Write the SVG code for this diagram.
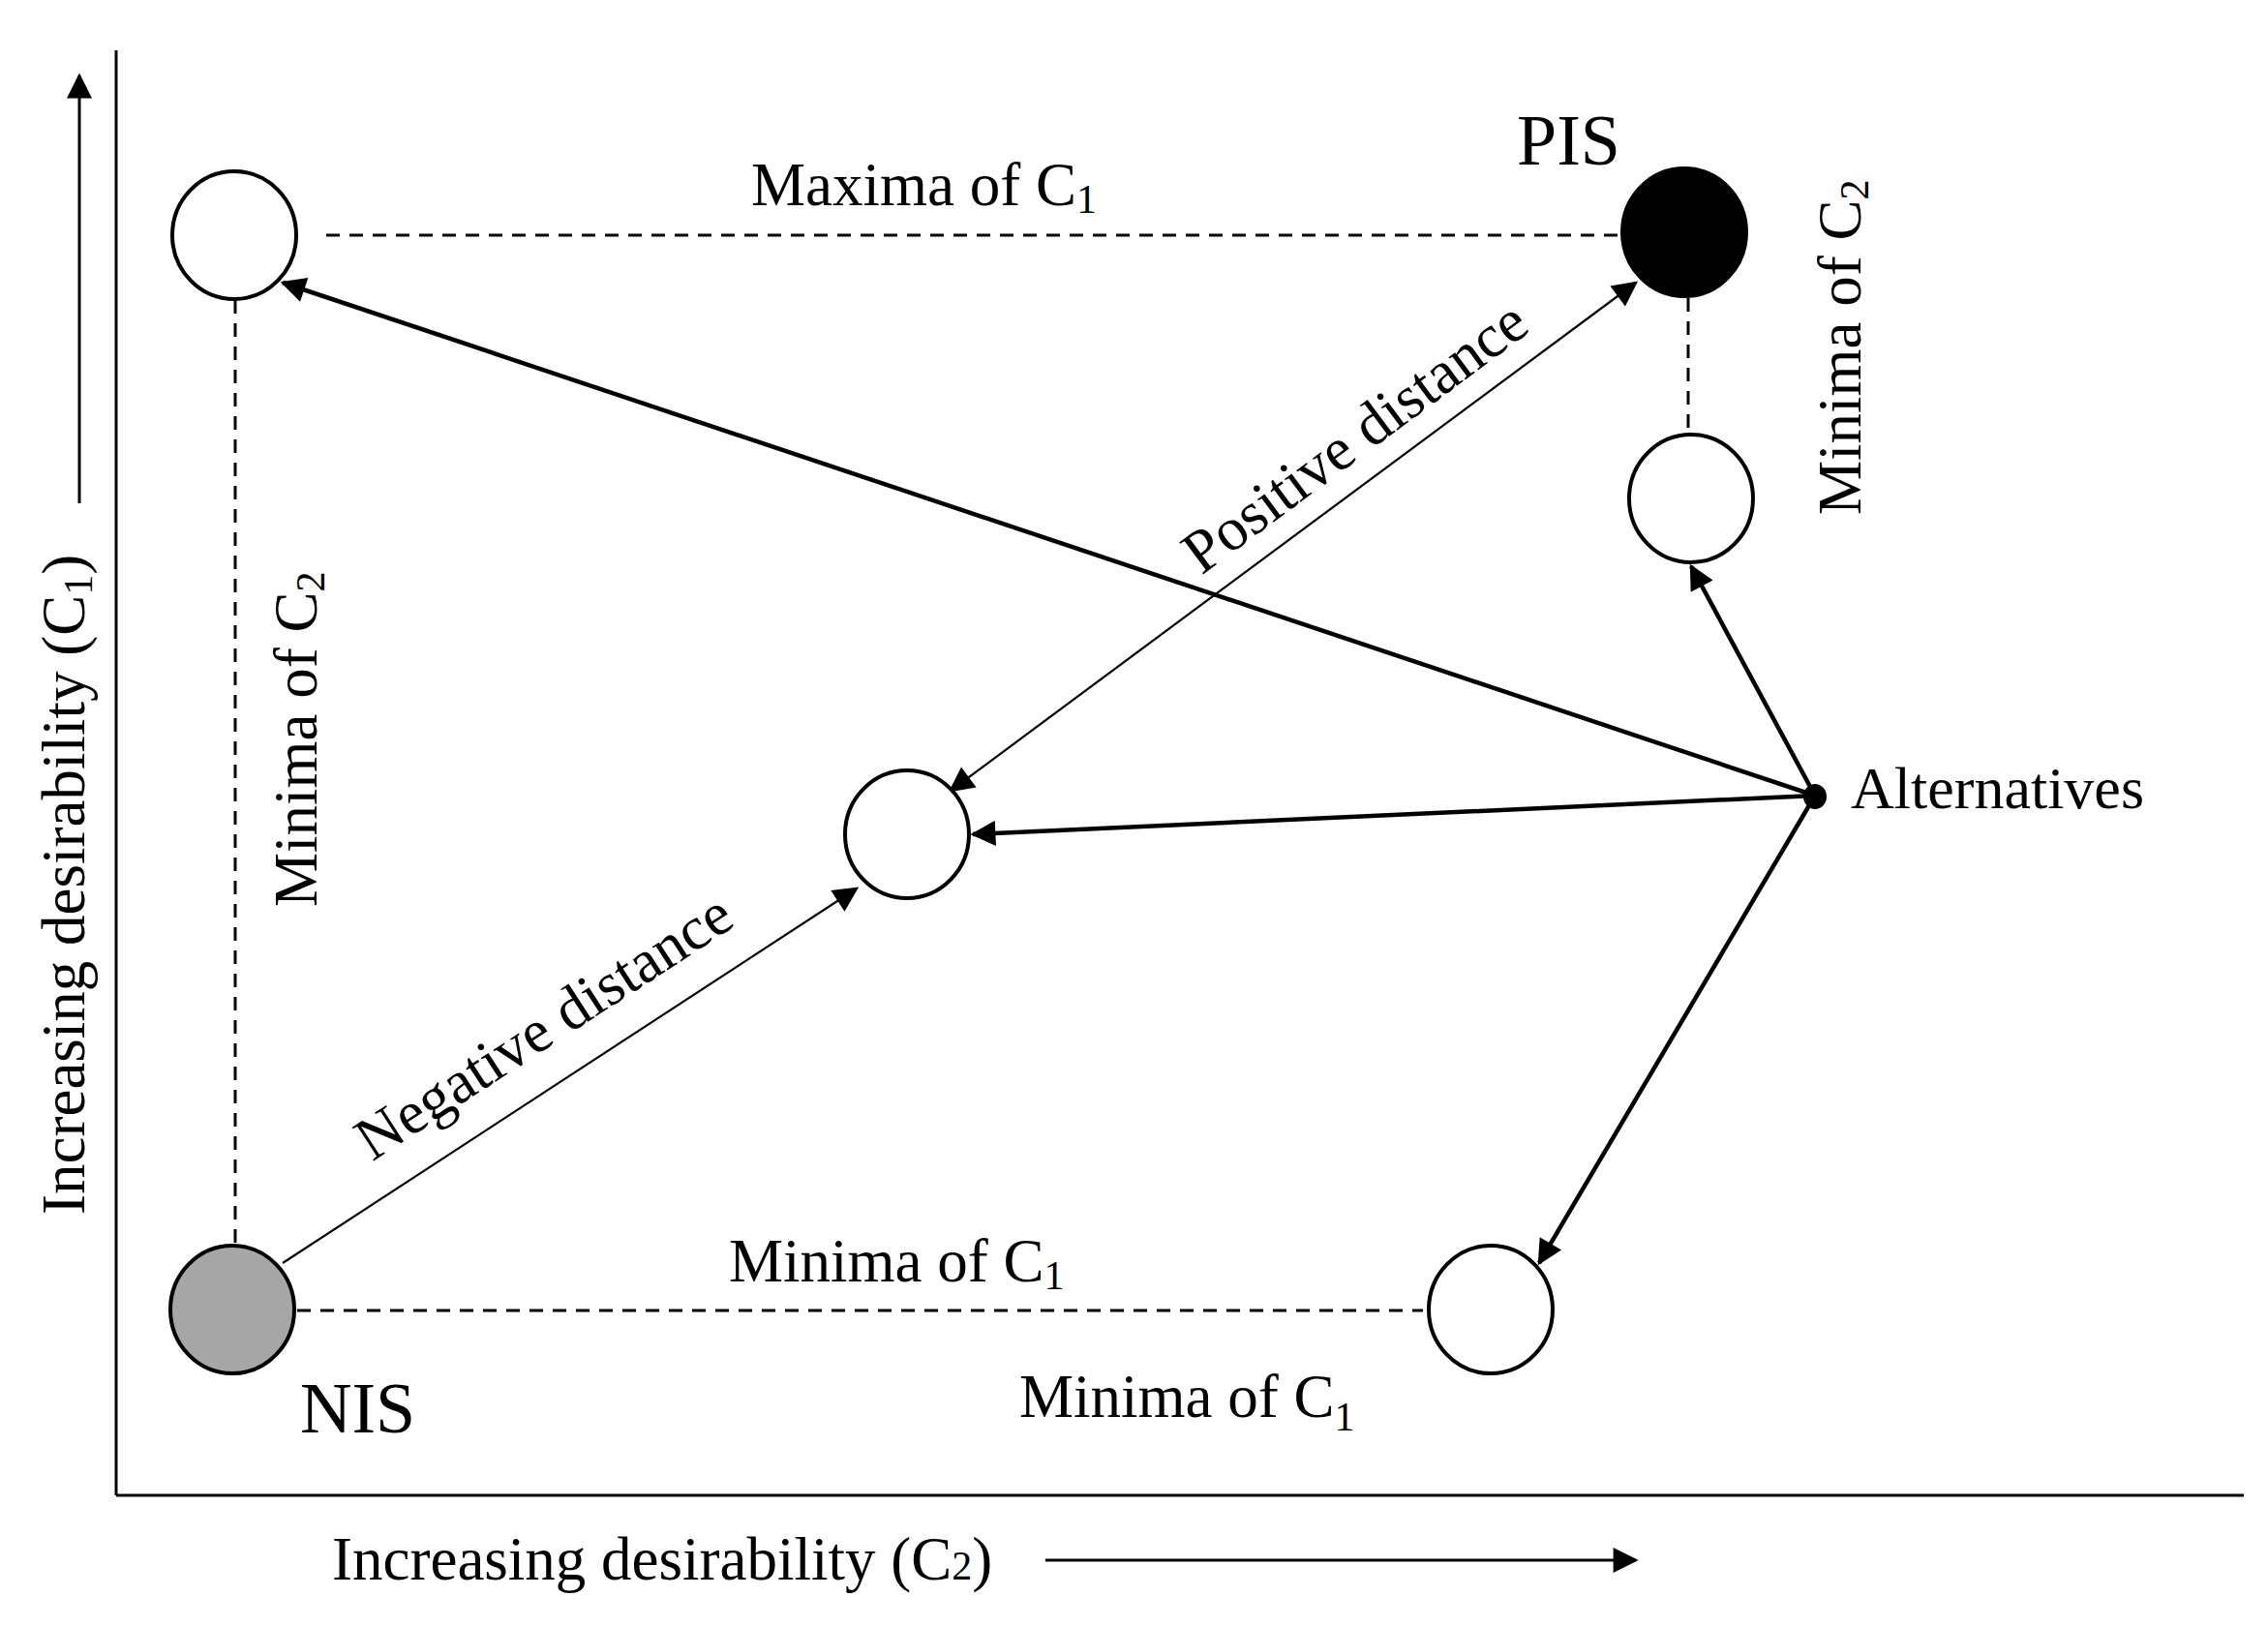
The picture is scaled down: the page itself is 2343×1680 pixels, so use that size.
<svg xmlns="http://www.w3.org/2000/svg" width="2343" height="1680" viewBox="0 0 2343 1680">
<style>
text{font-family:"Liberation Serif",serif;fill:#000}
.l{font-size:63px}
.s{font-size:42px}
.c{stroke:#000;stroke-width:4}
.d{stroke:#000;stroke-width:3;stroke-dasharray:14,10;fill:none}
.t{stroke:#000;stroke-width:4.5;fill:none}
.n{stroke:#000;stroke-width:2.2;fill:none}
</style>
<defs>
<marker id="b" viewBox="0 0 10 10" refX="9" refY="5" markerWidth="30" markerHeight="26" markerUnits="userSpaceOnUse" orient="auto-start-reverse"><path d="M0,0L10,5L0,10z"/></marker>
</defs>
<g id="axes" fill="none" stroke="#000" stroke-width="3">
<line x1="120" y1="52" x2="120" y2="1545"/>
<line x1="120" y1="1545" x2="2318" y2="1545"/>
<line x1="82" y1="520" x2="82" y2="78" marker-end="url(#b)"/>
<line x1="1080" y1="1612" x2="1690" y2="1612" marker-end="url(#b)"/>
</g>
<g id="connectors">
<line class="d" x1="337" y1="243" x2="1672" y2="243"/>
<line class="d" x1="243" y1="310" x2="243" y2="1285"/>
<line class="d" x1="307" y1="1354" x2="1470" y2="1354"/>
<line class="d" x1="1744" y1="308" x2="1744" y2="447"/>
<line class="t" x1="1875" y1="822" x2="292" y2="292" marker-end="url(#b)"/>
<line class="t" x1="1875" y1="822" x2="1005" y2="862" marker-end="url(#b)"/>
<line class="t" x1="1875" y1="822" x2="1747" y2="585" marker-end="url(#b)"/>
<line class="t" x1="1875" y1="822" x2="1590" y2="1305" marker-end="url(#b)"/>
<line class="n" x1="292" y1="1305" x2="885" y2="918" marker-end="url(#b)"/>
<line class="n" x1="1690" y1="292" x2="982" y2="817" marker-start="url(#b)" marker-end="url(#b)"/>
</g>
<g id="n-topleft"><ellipse class="c" cx="242" cy="243" rx="64" ry="66" fill="#fff"/></g>
<g id="n-pis"><ellipse class="c" cx="1740" cy="240" rx="64" ry="66" fill="#000"/><text x="1567" y="170" font-size="74">PIS</text></g>
<g id="n-right"><ellipse class="c" cx="1747" cy="515" rx="64" ry="66" fill="#fff"/></g>
<g id="n-mid"><ellipse class="c" cx="937" cy="862" rx="64" ry="66" fill="#fff"/></g>
<g id="n-nis"><ellipse class="c" cx="240" cy="1353" rx="64" ry="66" fill="#a6a6a6"/><text x="310" y="1480" font-size="74">NIS</text></g>
<g id="n-bottomright"><ellipse class="c" cx="1540" cy="1353" rx="64" ry="66" fill="#fff"/></g>
<g id="n-alt"><ellipse cx="1875" cy="823" rx="12" ry="13" fill="#000"/><text x="1912" y="835" font-size="62">Alternatives</text></g>
<g id="labels">
<text class="l" x="776" y="212">Maxima of C<tspan class="s" dy="8">1</tspan></text>
<text class="l" x="753" y="1324">Minima of C<tspan class="s" dy="8">1</tspan></text>
<text class="l" x="1053" y="1464">Minima of C<tspan class="s" dy="14">1</tspan></text>
<text class="l" transform="translate(1922,532) rotate(-90)">Minima of C<tspan class="s" dy="8">2</tspan></text>
<text class="l" transform="translate(327,937) rotate(-90)">Minima of C<tspan class="s" dy="8">2</tspan></text>
<text class="l" transform="translate(87,1255) rotate(-90)">Increasing desirability (C<tspan class="s" dy="8">1</tspan><tspan dy="-8">)</tspan></text>
<text class="l" x="343" y="1632">Increasing desirability (C<tspan class="s">2</tspan>)</text>
<text class="l" text-anchor="middle" transform="translate(1412,468) rotate(-36.6)">Positive distance</text>
<text class="l" text-anchor="middle" transform="translate(573,1078) rotate(-33)">Negative distance</text>
</g>
</svg>
